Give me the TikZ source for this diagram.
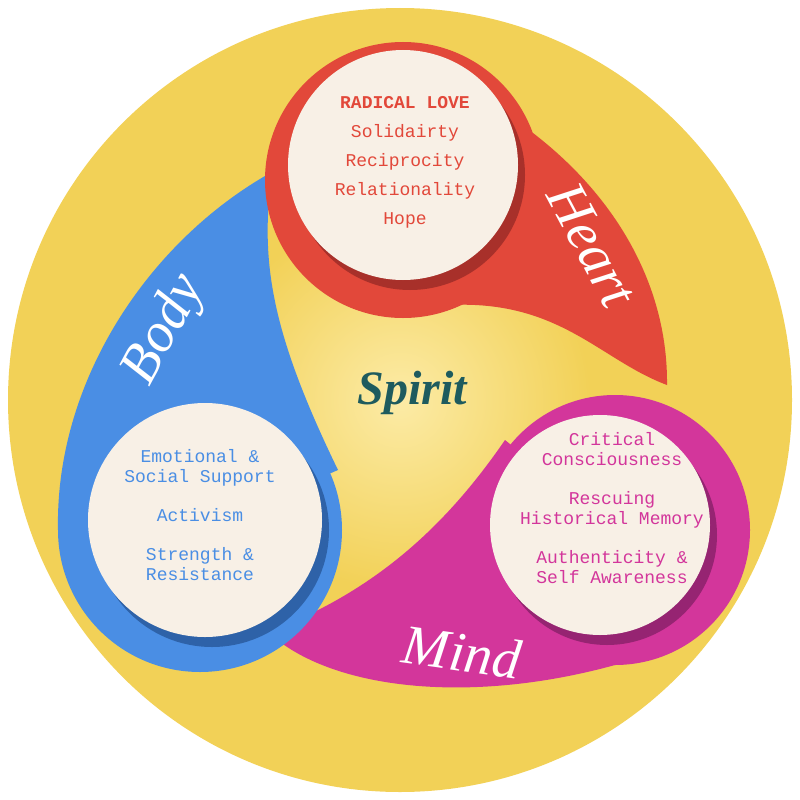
\documentclass[tikz,border=0pt]{standalone}
\usepackage{fontspec}
\setmonofont{Liberation Mono}
\newfontfamily\scriptf{Liberation Serif}
\definecolor{yel}{HTML}{F2D157}
\definecolor{glow}{HTML}{FCEBA6}
\definecolor{redc}{HTML}{E2483A}
\definecolor{redd}{HTML}{A8302A}
\definecolor{bluc}{HTML}{4A8EE4}
\definecolor{blud}{HTML}{2E62A8}
\definecolor{magc}{HTML}{D3369B}
\definecolor{magd}{HTML}{962472}
\definecolor{cream}{HTML}{F8F0E6}
\definecolor{teal}{HTML}{1E5B5E}
\tikzset{
 lst/.style={font=\ttfamily\fontsize{18}{20}\selectfont, align=center},
 lbl/.style={font=\scriptf\itshape\fontsize{56}{56}\selectfont, text=white},
}
\begin{document}
\begin{tikzpicture}[x=1pt,y=-1pt]
\useasboundingbox (0,0) rectangle (800,800);
\fill[yel] (400,400) circle[radius=392];
\shade[inner color=glow, outer color=yel] (400,400) circle[radius=190];
% tails
\fill[redc] (533,133) .. controls (620,200) and (668,290) .. (667,385)
  .. controls (600,360) and (560,300) .. (450,305) -- (403,180) -- cycle;
\fill[bluc] (58,530) .. controls (55,380) and (150,240) .. (272,172)
  .. controls (260,260) and (270,330) .. (338,470) -- (200,530) -- cycle;
\fill[magc] (615,665) .. controls (470,705) and (330,690) .. (268,632)
  .. controls (380,590) and (450,520) .. (505,440) -- (615,530) -- cycle;
% heads
\fill[redc] (403,180) circle[radius=138];
\fill[bluc] (200,530) circle[radius=142];
\fill[magc] (615,530) circle[radius=135];
% shadows and cream circles
\fill[redd] (410,175) circle[radius=115];
\fill[cream] (403,165) circle[radius=115];
\fill[blud] (212,530) circle[radius=117];
\fill[cream] (205,520) circle[radius=117];
\fill[magd] (607,535) circle[radius=110];
\fill[cream] (600,525) circle[radius=110];
% texts
\node[lst, text=redc] (heart) at (405,162) {\textbf{RADICAL LOVE}\\[9pt]Solidairty\\[9pt]Reciprocity\\[9pt]Relationality\\[9pt]Hope};
\node[lst, text=bluc] (body) at (200,515) {Emotional \&\\Social Support\\[19pt]Activism\\[19pt]Strength \&\\Resistance};
\node[lst, text=magc] (mind) at (612,508) {Critical\\Consciousness\\[19pt]Rescuing\\Historical Memory\\[19pt]Authenticity \&\\Self Awareness};
\node[lbl, rotate=-62] (hl) at (592,245) {Heart};
\node[lbl, rotate=62] (bl) at (165,330) {Body};
\node[lbl, rotate=-8] (ml) at (462,652) {Mind};
\node[lbl, text=teal, font=\scriptf\itshape\bfseries\fontsize{48}{48}\selectfont] (sp) at (412,393) {Spirit};
\end{tikzpicture}
\end{document}
